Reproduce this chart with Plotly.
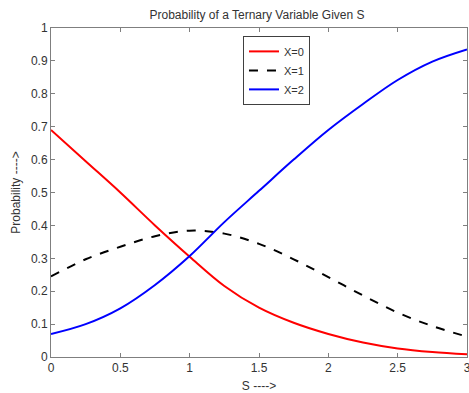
import plotly.graph_objects as go

s_values = [0, 0.25, 0.5, 0.75, 1.0, 1.25, 1.5, 1.75, 2.0, 2.25, 2.5, 2.75, 3.0]
p_x0 = [0.69, 0.595, 0.50, 0.40, 0.305, 0.216, 0.150, 0.104, 0.070, 0.044, 0.026, 0.015, 0.008]
p_x1 = [0.245, 0.297, 0.335, 0.367, 0.384, 0.375, 0.344, 0.297, 0.243, 0.187, 0.135, 0.094, 0.062]
p_x2 = [0.070, 0.100, 0.148, 0.219, 0.307, 0.410, 0.505, 0.600, 0.690, 0.769, 0.842, 0.898, 0.935]
series_names = ["X=0", "X=1", "X=2"]

x_ticks = [0, 0.5, 1, 1.5, 2, 2.5, 3]
x_tick_labels = ["0", "0.5", "1", "1.5", "2", "2.5", "3"]
y_ticks = [0, 0.1, 0.2, 0.3, 0.4, 0.5, 0.6, 0.7, 0.8, 0.9, 1]
y_tick_labels = ["0", "0.1", "0.2", "0.3", "0.4", "0.5", "0.6", "0.7", "0.8", "0.9", "1"]

font = "Liberation Sans, Arial, sans-serif"
txt = "#333333"
axis_col = "#7f7f7f"

fig = go.Figure()
styles = [("#ff0000", "solid"), ("#000000", "dash"), ("#0000ff", "solid")]
for name, ys, (col, dash) in zip(series_names, [p_x0, p_x1, p_x2], styles):
    fig.add_trace(go.Scatter(
        x=s_values, y=ys, mode="lines", name=name,
        line=dict(color=col, width=2, dash=dash, shape="spline", smoothing=1.0),
    ))

axis_common = dict(
    showline=True, linecolor=axis_col, linewidth=1, mirror="ticks",
    ticks="inside", ticklen=4, tickcolor=axis_col, showgrid=False, zeroline=False,
    tickfont=dict(family=font, size=12, color=txt),
    ticklabeloverflow="allow",
)

fig.update_layout(
    width=469, height=393,
    margin=dict(l=51, r=2, t=28, b=36, autoexpand=False),
    paper_bgcolor="white", plot_bgcolor="white",
    font=dict(family=font, size=12, color=txt),
    title=dict(text="Probability of a Ternary Variable Given S", x=0.548, xanchor="center",
               y=0.963, yanchor="middle", font=dict(family=font, size=12, color=txt)),
    xaxis=dict(range=[0, 3], tickvals=x_ticks, ticktext=x_tick_labels, automargin=False,
               title=dict(text="S ---->", font=dict(family=font, size=12, color=txt)),
               **axis_common),
    yaxis=dict(range=[0, 1], tickvals=y_ticks, ticktext=y_tick_labels, automargin=True,
               title=dict(text="Probability ---->", standoff=7,
                          font=dict(family=font, size=12, color=txt)),
               **axis_common),
    legend=dict(x=0.4615, y=0.976, xanchor="left", yanchor="top",
                bordercolor="#404040", borderwidth=1, bgcolor="white",
                font=dict(family=font, size=11, color=txt),
                tracegroupgap=0, itemwidth=30),
    showlegend=True,
)

fig.write_html("out.html",
               config={"displayModeBar": False},
               post_script="document.body.style.margin='0';document.body.style.overflow='hidden';")
